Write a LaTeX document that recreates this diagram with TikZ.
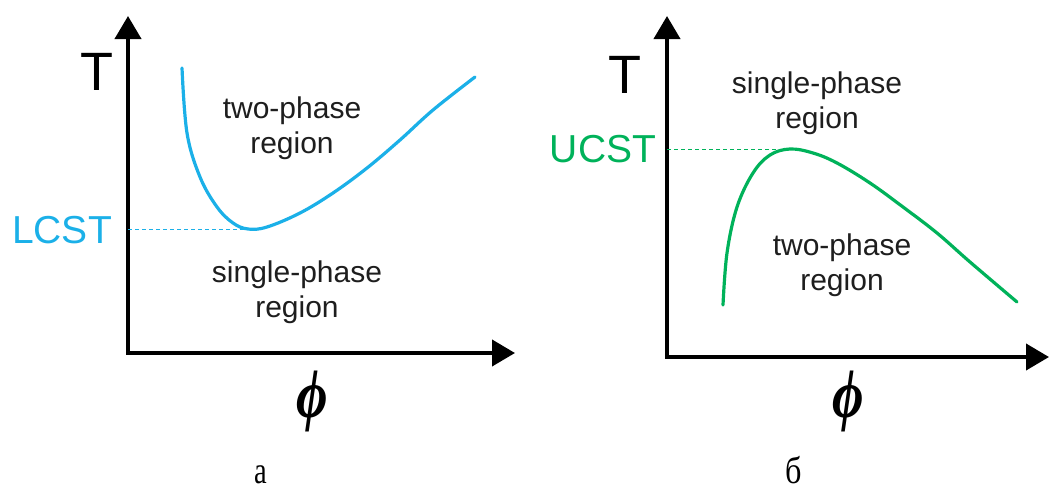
\documentclass[tikz,border=0pt]{standalone}
\usepackage{fontspec}
\setmainfont{Liberation Sans}
\newfontfamily\serifcyr{Liberation Serif}
\usetikzlibrary{arrows.meta}
\definecolor{lcstblue}{RGB}{27,176,232}
\definecolor{ucstgreen}{RGB}{0,178,90}
\definecolor{txt}{RGB}{30,30,30}
\tikzset{
  axis/.style={line width=4pt,-{Triangle[length=23pt,width=26pt]}},
  region/.style={text=txt,align=center,font=\fontsize{30}{35}\selectfont},
  tlabel/.style={font=\fontsize{54}{54}\selectfont},
  crit/.style={font=\fontsize{39}{39}\selectfont},
  philabel/.style={inner sep=0pt,font=\serifcyr\bfseries\itshape\fontsize{68}{68}\selectfont},
  sublabel/.style={font=\serifcyr\fontsize{38}{38}\selectfont,inner sep=0pt},
  guide/.style={dashed,line width=1pt,dash pattern=on 4pt off 3pt},
  curve/.style={line width=3.2pt,line cap=round}
}
\newcommand{\bigphi}{\scalebox{0.8}[1]{\symbol{"03D5}}}
\begin{document}
\begin{tikzpicture}[x=1pt,y=-1pt]
\useasboundingbox (0,0) rectangle (1049,490);
% ---- panel a
\coordinate (oa) at (128,353);
\coordinate (ya) at (128,16);
\coordinate (xa) at (515,353);
\draw[axis] (oa) -- (ya);
\draw[axis] ([xshift=-2pt]oa) -- (xa);
\node[tlabel] (Ta) at (97,72) {T};
\node[crit,text=lcstblue] (lcst) at (62,230) {LCST};
\coordinate (mina) at (248,229);
\draw[guide,lcstblue] (oa|-mina) -- (mina);
\draw[curve,lcstblue] plot[smooth,tension=0.6] coordinates {(182,68) (187,133) (200,177) (217,207) (233,223) (248,229) (267,227) (300,213) (333,193) (367,168) (400,140) (433,110) (475,77)};
\node[region] (twoa) at (292,128) {two-phase\\region};
\node[region] (onea) at (297,292) {single-phase\\region};
\node[philabel] (phia) at (312,401) {\bigphi};
\node[sublabel] (suba) at (261,475) {\scalebox{0.75}[1]{а}};
% ---- panel b
\coordinate (ob) at (667,357);
\coordinate (yb) at (667,16);
\coordinate (xb) at (1049,357);
\draw[axis] (ob) -- (yb);
\draw[axis] ([xshift=-2pt]ob) -- (xb);
\node[tlabel] (Tb) at (625,75) {T};
\node[crit,text=ucstgreen] (ucst) at (603,149) {UCST};
\coordinate (maxb) at (790,149);
\draw[guide,ucstgreen] (ob|-maxb) -- (maxb);
\draw[curve,ucstgreen] plot[smooth,tension=0.6] coordinates {(723,305) (727,253) (737,207) (753,173) (770,155) (790,149) (813,153) (837,163) (870,183) (903,207) (937,233) (970,262) (1017,302)};
\node[region] (oneb) at (817,103) {single-phase\\region};
\node[region] (twob) at (842,265) {two-phase\\region};
\node[philabel] (phib) at (848,401) {\bigphi};
\node[sublabel] (subb) at (794,470) {\scalebox{0.85}[1]{б}};
\end{tikzpicture}
\end{document}
